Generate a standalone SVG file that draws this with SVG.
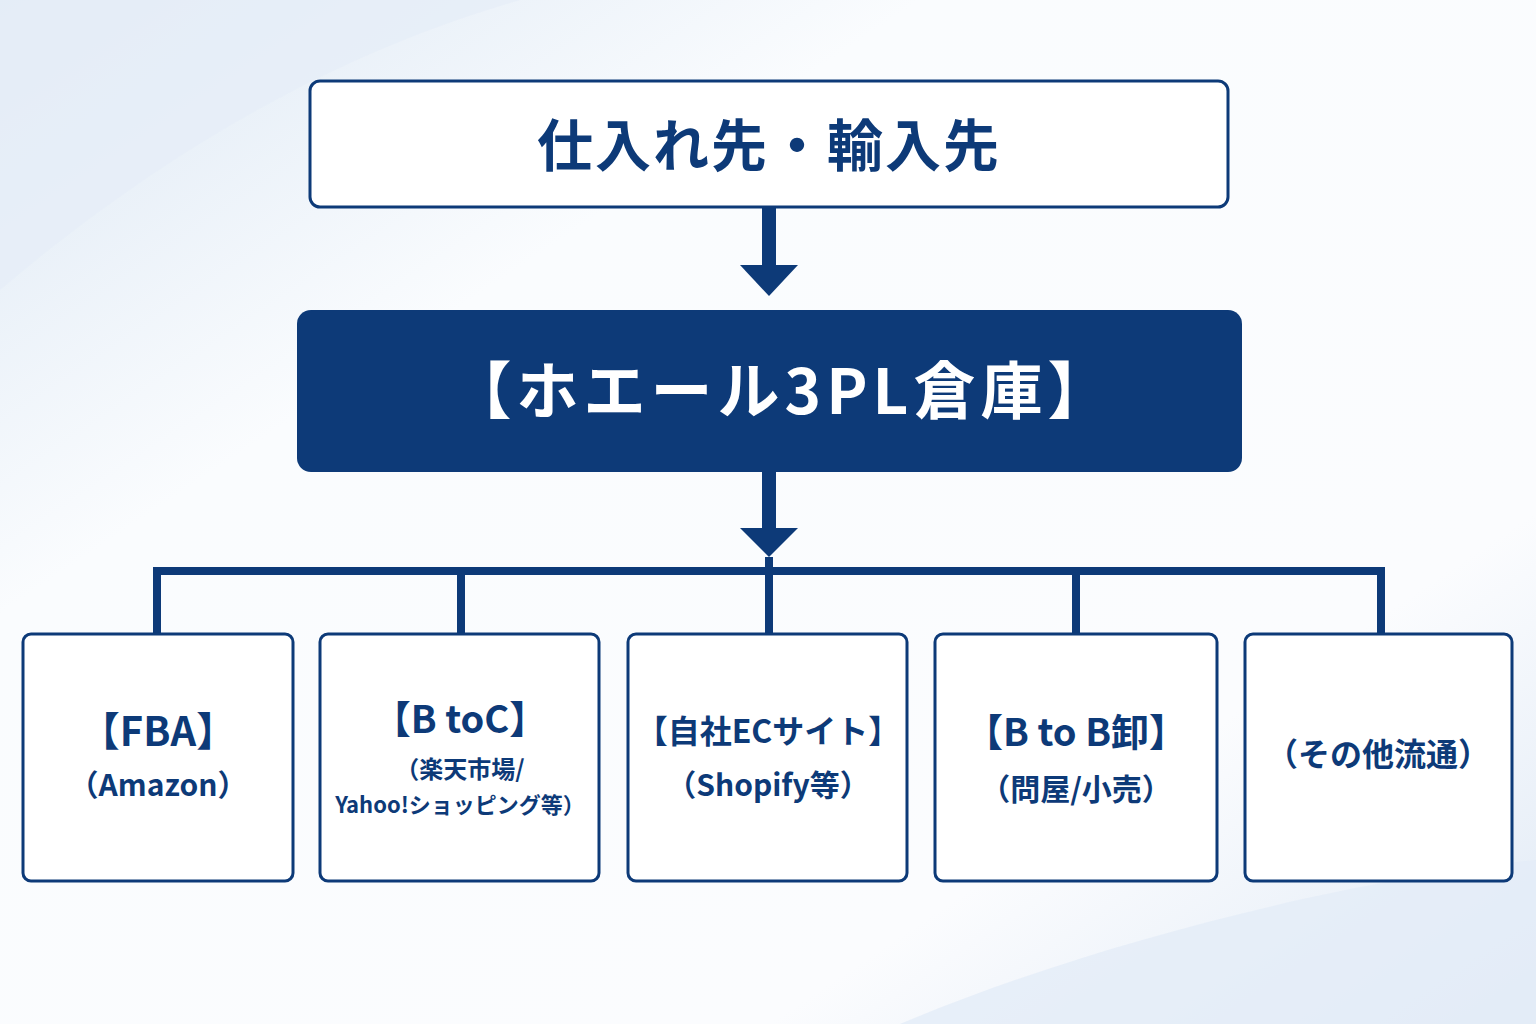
<svg xmlns="http://www.w3.org/2000/svg" width="1536" height="1024" viewBox="0 0 1536 1024">
<defs>
<style>
.box{fill:#fff;stroke:#0d3a78;stroke-width:3}
.t{font-family:"Noto Sans CJK JP","Noto Sans",sans-serif;font-weight:bold;fill:#0d3a78;text-anchor:middle}
.ln{stroke:#0d3a78;stroke-width:8;fill:none}
</style>
<linearGradient id="bg" x1="0" y1="0" x2="1" y2="1">
<stop offset="0" stop-color="#dde8f4"/><stop offset="0.3" stop-color="#fafcfe"/><stop offset="0.75" stop-color="#fbfcfe"/><stop offset="1" stop-color="#dfe9f5"/>
</linearGradient>
</defs>
<rect width="1536" height="1024" fill="url(#bg)"/>
<path d="M0 0 H520 C380 40 200 120 0 290 Z" fill="#e6eef8" opacity="0.8"/>
<path d="M900 1024 C1100 940 1350 880 1536 860 V1024 Z" fill="#e3ecf7" opacity="0.8"/>
<g id="connectors">
<rect x="762" y="207" width="14" height="60" fill="#0d3a78"/>
<polygon points="740,265 798,265 769,296" fill="#0d3a78"/>
<rect x="762" y="472" width="14" height="58" fill="#0d3a78"/>
<polygon points="740,528 798,528 769,557" fill="#0d3a78"/>
<path class="ln" d="M157 634 V571 H1381 V634 M461 571 V634 M769 557 V634 M1076 571 V634"/>
</g>
<g id="supplier"><rect class="box" x="310" y="81" width="918" height="126" rx="10"/>
<text class="t" x="769" y="166" font-size="56" letter-spacing="2">仕入れ先・輸入先</text></g>
<g id="warehouse"><rect x="297" y="310" width="945" height="162" rx="14" fill="#0d3a78"/>
<text class="t" x="782" y="414" font-size="62" style="fill:#fff" letter-spacing="5">【ホエール3PL倉庫】</text></g>
<g id="fba"><rect class="box" x="23" y="634" width="270" height="247" rx="8"/>
<text class="t" x="158" y="746" font-size="40">【FBA】</text>
<text class="t" x="158" y="796" font-size="30">（Amazon）</text></g>
<g id="btoc"><rect class="box" x="320" y="634" width="279" height="247" rx="8"/>
<text class="t" x="460" y="733" font-size="38">【B toC】</text>
<text class="t" x="460" y="778" font-size="24">（楽天市場/</text>
<text class="t" x="460" y="813" font-size="22">Yahoo!ショッピング等）</text></g>
<g id="ec"><rect class="box" x="628" y="634" width="279" height="247" rx="8"/>
<text class="t" x="768" y="743" font-size="32">【自社ECサイト】</text>
<text class="t" x="768" y="796" font-size="30">（Shopify等）</text></g>
<g id="btob"><rect class="box" x="935" y="634" width="282" height="247" rx="8"/>
<text class="t" x="1076" y="746" font-size="38">【B to B卸】</text>
<text class="t" x="1076" y="800" font-size="30">（問屋/小売）</text></g>
<g id="other"><rect class="box" x="1245" y="634" width="267" height="247" rx="8"/>
<text class="t" x="1378" y="766" font-size="32">（その他流通）</text></g>
</svg>
